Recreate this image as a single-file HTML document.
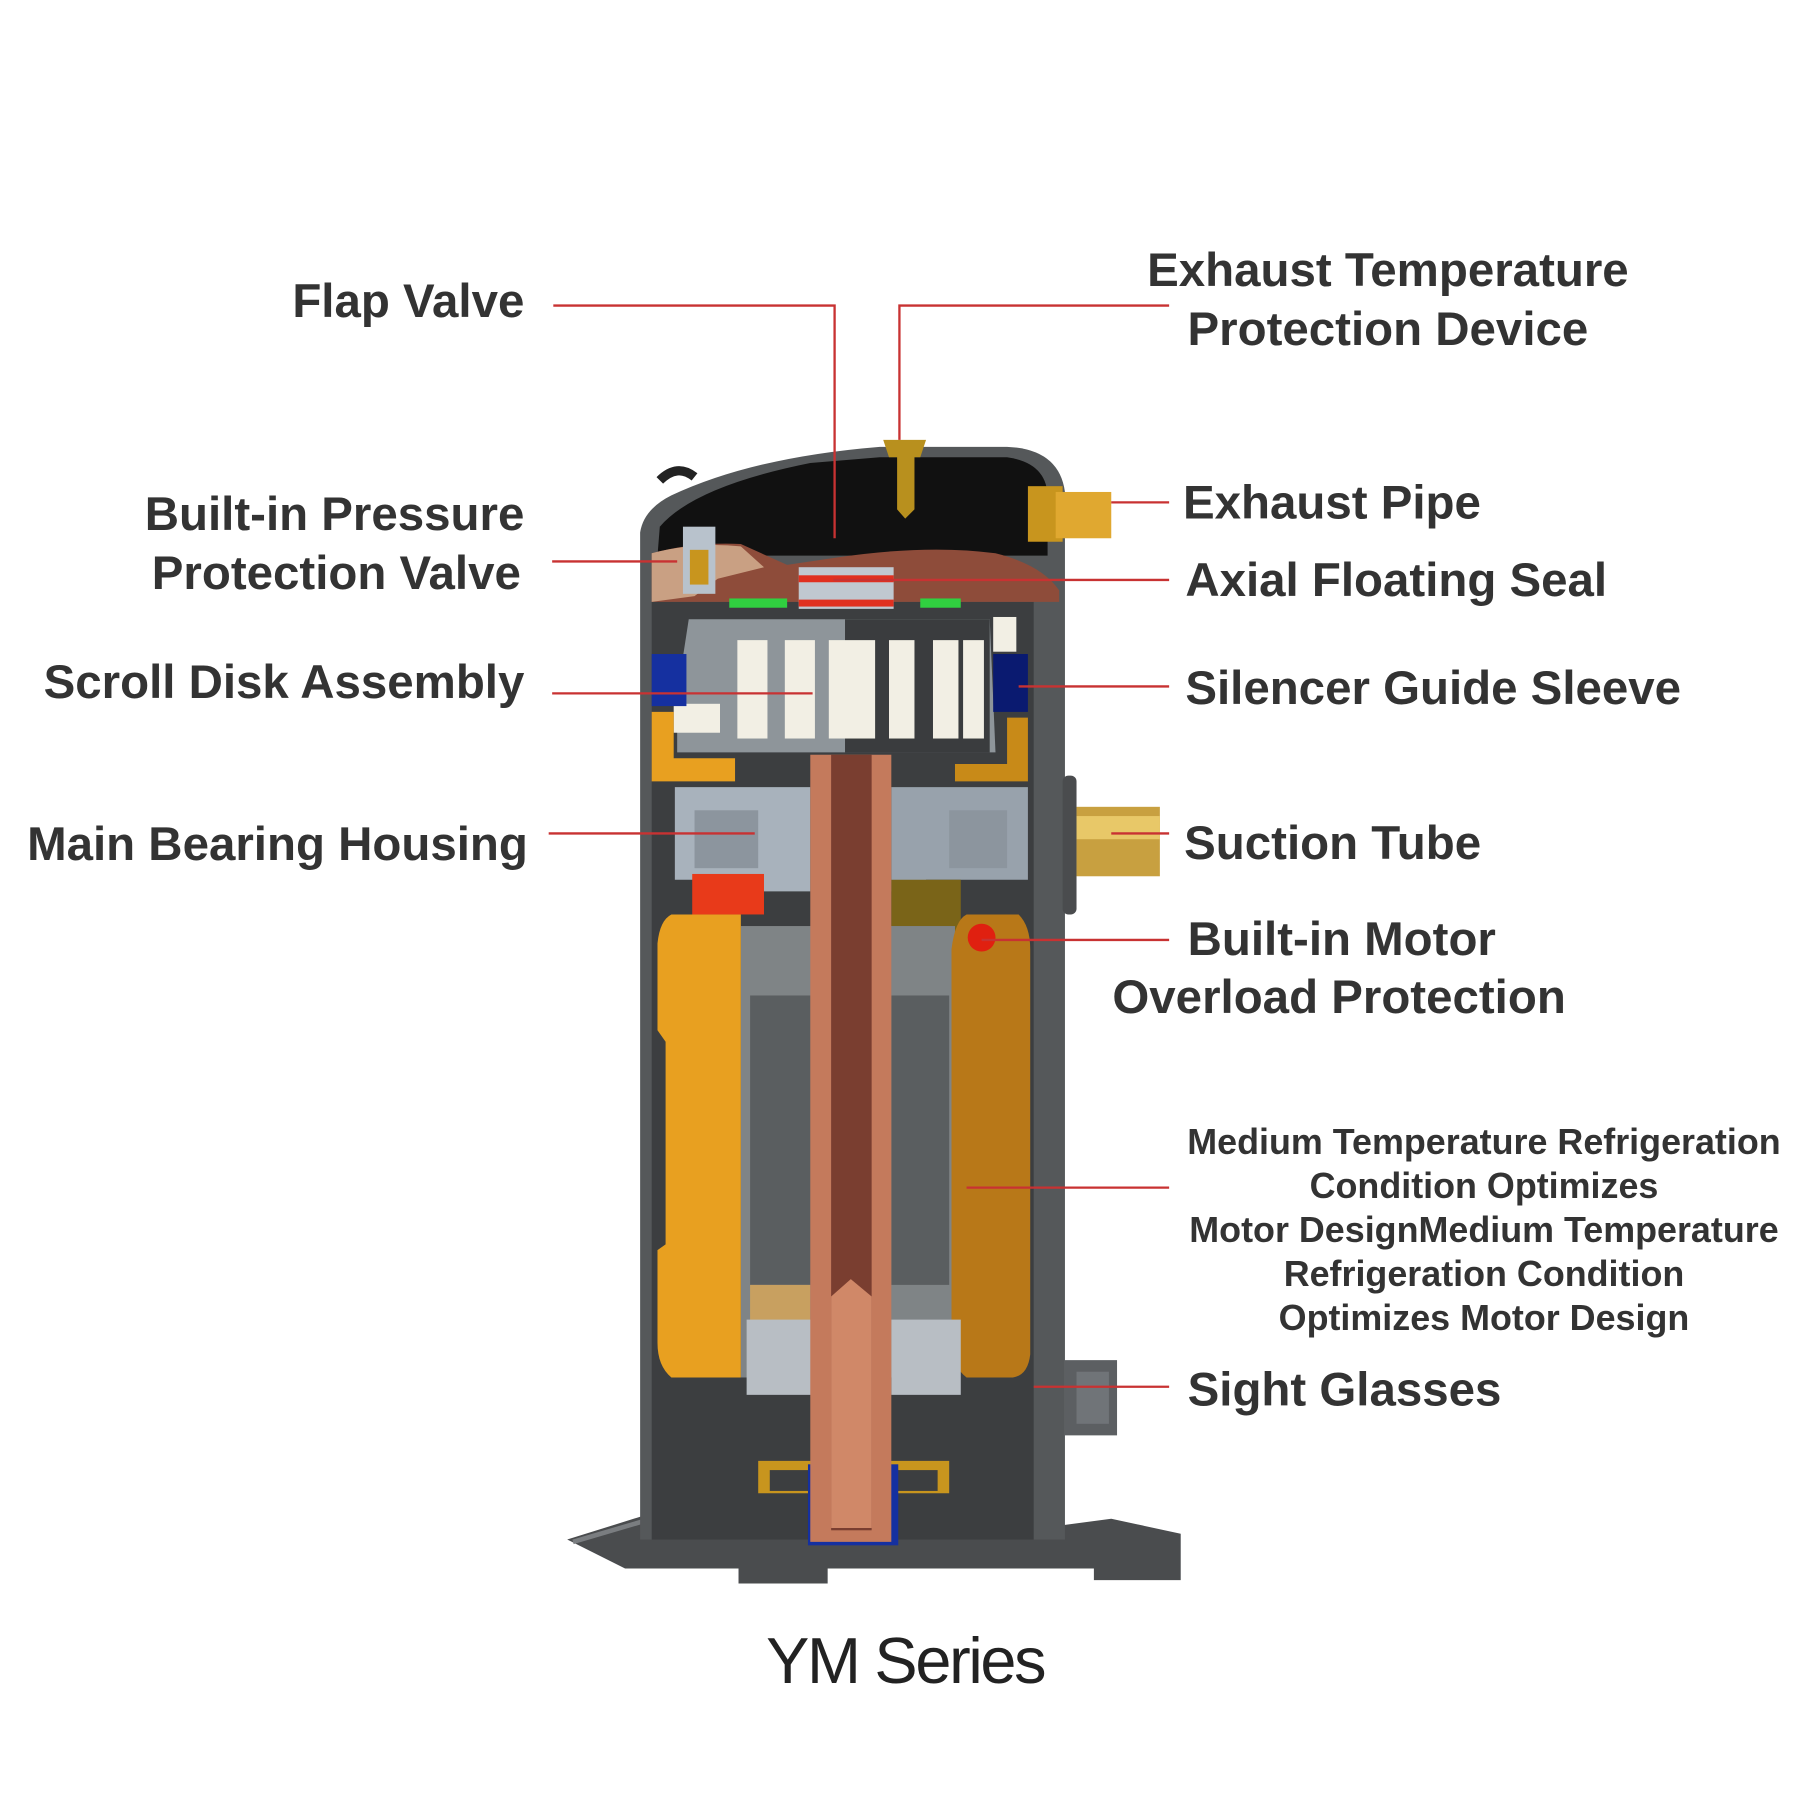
<!DOCTYPE html>
<html><head><meta charset="utf-8"><style>
html,body{margin:0;padding:0;background:#fff;}
svg{display:block;}
text{font-family:"Liberation Sans",Arial,sans-serif;fill:#333;}
.l{font-size:41px;font-weight:bold;}
.m{font-size:31px;font-weight:bold;}
</style></head><body>
<svg width="1800" height="1800" viewBox="0 0 1555 1555" xmlns="http://www.w3.org/2000/svg">
<path d="M490 1330 L570 1305 L600 1320 L900 1320 L960 1312 L1020 1325 L1020 1365 L945 1365 L945 1355 L715 1355 L715 1368 L638 1368 L638 1355 L540 1355 Z" fill="#4a4c4e"/>
<path d="M495 1332 L570 1310 L600 1325" stroke="#7a7d80" stroke-width="4" fill="none"/>
<path d="M553 460 Q556 440 580 428 Q650 395 760 386 L870 386 Q915 388 920 425 L920 1330 L553 1330 Z" fill="#55585a"/>
<path d="M570 455 Q600 420 700 400 L760 395 L870 395 Q905 400 905 430 L905 480 L568 480 Z" fill="#111"/>
<path d="M570 415 Q585 400 600 412" stroke="#222" stroke-width="8" fill="none"/>
<rect x="563" y="520" width="330" height="810" fill="#3c3e40"/>
<path d="M563 478 Q600 468 640 470 L680 488 L720 482 Q800 470 860 478 Q900 488 915 510 L915 520 L563 520 Z" fill="#8e4c3a"/>
<path d="M563 478 Q600 468 640 472 L660 490 L620 500 L600 515 L563 520 Z" fill="#c9a083"/>
<rect x="590" y="455" width="28" height="58" fill="#b8c2cc"/>
<rect x="596" y="475" width="16" height="30" fill="#c8951e"/>
<rect x="690" y="490" width="82" height="36" fill="#c0c8d0"/>
<rect x="690" y="497" width="82" height="6" fill="#e03020"/>
<rect x="690" y="518" width="82" height="6" fill="#e03020"/>
<rect x="630" y="517" width="50" height="8" fill="#30d040"/>
<rect x="795" y="517" width="35" height="8" fill="#30d040"/>
<path d="M595 535 L855 535 L860 650 L585 650 L585 600 Z" fill="#8e959a"/>
<rect x="730" y="535" width="125" height="115" fill="#3a3c3e"/>
<g fill="#f2efe4"><rect x="637" y="553" width="26" height="85"/><rect x="678" y="553" width="26" height="85"/><rect x="716" y="553" width="40" height="85"/><rect x="768" y="553" width="22" height="85"/><rect x="806" y="553" width="22" height="85"/><rect x="832" y="553" width="18" height="85"/><rect x="858" y="533" width="20" height="30"/><rect x="582" y="608" width="40" height="25"/></g>
<rect x="563" y="565" width="30" height="45" fill="#1530a0"/>
<rect x="858" y="565" width="30" height="50" fill="#0a1a70"/>
<path d="M563 615 L582 615 L582 655 L635 655 L635 675 L563 675 Z" fill="#e8a020"/>
<path d="M888 620 L870 620 L870 660 L825 660 L825 675 L888 675 Z" fill="#c88a18"/>
<path d="M583 680 L700 680 L700 770 L655 770 L655 760 L583 760 Z" fill="#a8b2bc"/>
<path d="M770 680 L888 680 L888 760 L800 760 L800 770 L770 770 Z" fill="#98a2ac"/>
<rect x="600" y="700" width="55" height="50" fill="#8c959e"/>
<rect x="820" y="700" width="50" height="50" fill="#8c959e"/>
<rect x="598" y="755" width="62" height="35" fill="#e83a1a"/>
<rect x="770" y="760" width="60" height="70" fill="#7a6418"/>
<rect x="640" y="800" width="185" height="390" fill="#7f8486"/>
<rect x="648" y="860" width="55" height="250" fill="#5a5e60"/>
<rect x="770" y="860" width="50" height="250" fill="#5a5e60"/>
<rect x="648" y="1110" width="52" height="50" fill="#c8a060"/>
<path d="M580 790 L640 790 L640 1190 L580 1190 Q568 1180 568 1160 L568 1080 L575 1075 L575 900 L568 890 L568 815 Q570 795 580 790 Z" fill="#e8a020"/>
<path d="M835 790 L880 790 Q890 800 890 820 L890 1170 Q888 1188 875 1190 L835 1190 Q822 1180 822 1160 L822 820 Q825 795 835 790 Z" fill="#b87818"/>
<circle cx="848" cy="810" r="12" fill="#e02010"/>
<rect x="645" y="1140" width="60" height="65" fill="#b8bec4"/>
<rect x="770" y="1140" width="60" height="65" fill="#b8bec4"/>
<path d="M655 1262 L820 1262 L820 1290 L655 1290 Z" fill="#c8951e"/>
<rect x="665" y="1270" width="145" height="18" fill="#3c3e40"/>
<rect x="698" y="1265" width="78" height="70" fill="#1530a0"/>
<rect x="712" y="1275" width="45" height="50" fill="#30e050"/>
<rect x="700" y="652" width="70" height="680" fill="#c47a5c"/>
<rect x="718" y="652" width="35" height="670" fill="#7a3e30"/>
<path d="M718 1120 L735 1105 L753 1120 L753 1320 L718 1320 Z" fill="#d08868"/>
<path d="M763 380 L800 380 L795 395 L790 395 L790 440 L782 448 L775 440 L775 395 L768 395 Z" fill="#b8901e"/>
<rect x="888" y="420" width="30" height="48" fill="#c8951e"/>
<rect x="912" y="425" width="48" height="40" fill="#e0a830"/>
<rect x="918" y="670" width="12" height="120" fill="#4a4c4e" rx="5"/>
<rect x="930" y="697" width="72" height="60" fill="#c8a040"/>
<rect x="930" y="705" width="72" height="20" fill="#e8c868"/>
<rect x="920" y="1175" width="45" height="65" fill="#5c5f62"/>
<rect x="930" y="1185" width="28" height="45" fill="#707478"/>
<g stroke="#c83232" stroke-width="2" fill="none">
<polyline points="478,264 721,264 721,465"/>
<polyline points="1010,264 777,264 777,380"/>
<line x1="477" y1="485" x2="585" y2="485"/>
<line x1="477" y1="599" x2="702" y2="599"/>
<line x1="474" y1="720" x2="652" y2="720"/>
<line x1="960" y1="434" x2="1010" y2="434"/>
<line x1="720" y1="501" x2="1010" y2="501"/>
<line x1="880" y1="593" x2="1010" y2="593"/>
<line x1="960" y1="720" x2="1010" y2="720"/>
<line x1="848" y1="812" x2="1010" y2="812"/>
<line x1="835" y1="1026" x2="1010" y2="1026"/>
<line x1="893" y1="1198" x2="1010" y2="1198"/>
</g>
<text x="453" y="274" text-anchor="end" class="l">Flap Valve</text>
<text x="1199" y="247" text-anchor="middle" class="l">Exhaust Temperature</text>
<text x="1199" y="298" text-anchor="middle" class="l">Protection Device</text>
<text x="453" y="458" text-anchor="end" class="l">Built-in Pressure</text>
<text x="450" y="509" text-anchor="end" class="l">Protection Valve</text>
<text x="453" y="603" text-anchor="end" class="l">Scroll Disk Assembly</text>
<text x="456" y="743" text-anchor="end" class="l">Main Bearing Housing</text>
<text x="1022" y="448" class="l">Exhaust Pipe</text>
<text x="1024" y="515" class="l">Axial Floating Seal</text>
<text x="1024" y="608" class="l">Silencer Guide Sleeve</text>
<text x="1023" y="742" class="l">Suction Tube</text>
<text x="1026" y="825" class="l">Built-in Motor</text>
<text x="961" y="875" class="l">Overload Protection</text>
<text x="1026" y="1214" class="l">Sight Glasses</text>
<g text-anchor="middle">
<text x="1282" y="997" class="m">Medium Temperature Refrigeration</text>
<text x="1282" y="1035" class="m">Condition Optimizes</text>
<text x="1282" y="1073" class="m">Motor DesignMedium Temperature</text>
<text x="1282" y="1111" class="m">Refrigeration Condition</text>
<text x="1282" y="1149" class="m">Optimizes Motor Design</text>
</g>
<text x="782" y="1454" text-anchor="middle" style="font-size:56px;letter-spacing:-2px;fill:#222">YM Series</text>
</svg>
</body></html>
